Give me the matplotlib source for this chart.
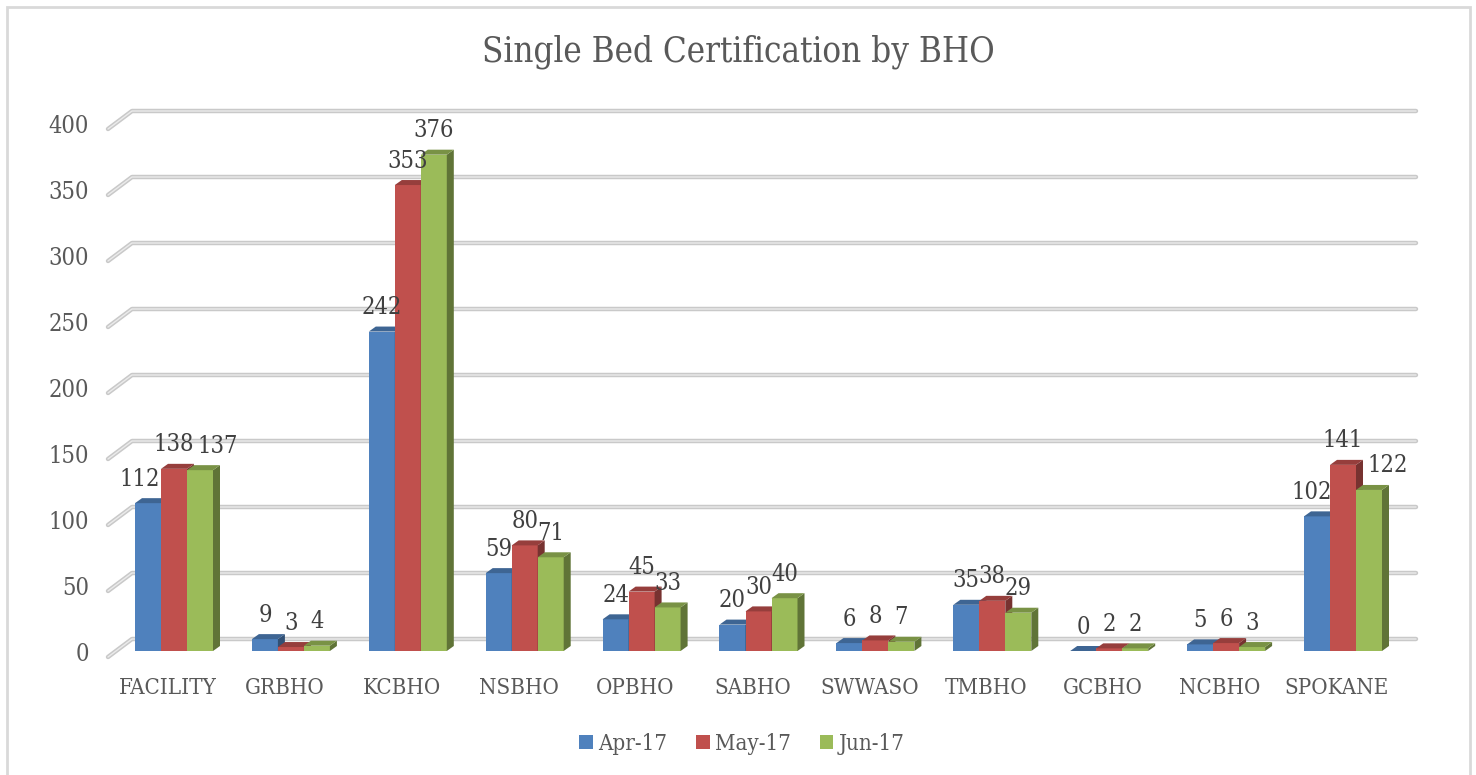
import matplotlib
matplotlib.use("Agg")
import matplotlib.pyplot as plt
from matplotlib.patches import Polygon, Patch, Rectangle
from matplotlib import colors as mcolors


categories = ["FACILITY", "GRBHO", "KCBHO", "NSBHO", "OPBHO", "SABHO",
              "SWWASO", "TMBHO", "GCBHO", "NCBHO", "SPOKANE"]
series_names = ["Apr-17", "May-17", "Jun-17"]
apr_17 = [112, 9, 242, 59, 24, 20, 6, 35, 0, 5, 102]
may_17 = [138, 3, 353, 80, 45, 30, 8, 38, 2, 6, 141]
jun_17 = [137, 4, 376, 71, 33, 40, 7, 29, 2, 3, 122]
y_ticks = [0, 50, 100, 150, 200, 250, 300, 350, 400]

COLORS = ["#4F81BD", "#C0504D", "#9BBB59"]
TEXT_DARK = "#404040"
TEXT_GRAY = "#595959"

# pixel geometry of the "3D" look
W, H, DPI = 1476, 775, 100
CAT_PX = 116.9      # distance between category groups
X0_PX = 174         # centre of first group
BASE_PX = 651       # baseline of bar fronts, from top
VAL_PX = 1.32       # pixels per unit
BAR_PX = 26
DEPTH_X, DEPTH_Y = 7, 5

plt.rcParams["font.family"] = "DejaVu Serif"
plt.rcParams["font.stretch"] = "condensed"


def px_x(n):
    return n / CAT_PX


def px_y(n):
    return n / VAL_PX


def draw_bar(ax, xc, v, color):
    bw = px_x(BAR_PX)
    dx, dy = px_x(DEPTH_X), px_y(DEPTH_Y)
    xl, xr = xc - bw / 2, xc + bw / 2
    rgb = mcolors.to_rgb(color)
    top = tuple(c * 0.78 for c in rgb)
    side = tuple(c * 0.62 for c in rgb)
    ax.add_patch(Polygon([(xl, 0), (xr, 0), (xr, v), (xl, v)],
                         closed=True, facecolor=color, edgecolor="none", zorder=3))
    ax.add_patch(Polygon([(xr, 0), (xr + dx, dy), (xr + dx, v + dy), (xr, v)],
                         closed=True, facecolor=side, edgecolor="none", zorder=3))
    ax.add_patch(Polygon([(xl, v), (xr, v), (xr + dx, v + dy), (xl + dx, v + dy)],
                         closed=True, facecolor=top, edgecolor="none", zorder=3))


fig = plt.figure(figsize=(W / DPI, H / DPI), dpi=DPI)
ax = fig.add_axes([0, 0, 1, 1])
ax.set_xlim(-X0_PX / CAT_PX, (W - X0_PX) / CAT_PX)
ax.set_ylim(-(H - BASE_PX) / VAL_PX, BASE_PX / VAL_PX)
ax.axis("off")

# outer chart border
fig.patches.append(Rectangle((7 / W, -0.01), 1463 / W, 1 - 7 / H + 0.01,
                             transform=fig.transFigure, fill=False,
                             edgecolor="#d9d9d9", linewidth=2))

# gridlines: short wall diagonal + long back line
gx_front, gx_back, gx_end = px_x(108 - X0_PX), px_x(132 - X0_PX), px_x(1416 - X0_PX)
g_front, g_back = px_y(-6), px_y(12)
for t in y_ticks:
    xs = [gx_front, gx_back, gx_end]
    ys = [t + g_front, t + g_back, t + g_back]
    ax.plot(xs, ys, color="#c9c9c9", lw=3.2, solid_capstyle="round",
            solid_joinstyle="round", zorder=1)
    ax.plot(xs, ys, color="#ebebeb", lw=1.0, solid_capstyle="round",
            solid_joinstyle="round", zorder=1.5)
    ax.text(px_x(89 - X0_PX), t - 3, str(t), ha="right", va="center",
            fontsize=17, color=TEXT_GRAY)

# bars and value labels
label_nudge = {(0, 0): -8, (0, 2): 18, (10, 0): -5, (10, 2): 19}
series = [apr_17, may_17, jun_17]
for i, cat in enumerate(categories):
    for s, vals in enumerate(series):
        xc = i + (s - 1) * px_x(BAR_PX)
        draw_bar(ax, xc, vals[i], COLORS[s])
        ax.text(xc + px_x(label_nudge.get((i, s), 0)), vals[i] + px_y(24),
                str(vals[i]), ha="center", va="center", fontsize=17,
                color=TEXT_DARK, zorder=5)
    ax.text(i - px_x(6), px_y(-37), cat, ha="center", va="center",
            fontsize=16, color=TEXT_GRAY)

fig.text(0.5, 1 - 52 / H, "Single Bed Certification by BHO", ha="center",
         va="center", fontsize=25, color=TEXT_GRAY)

handles = [Patch(facecolor=c, edgecolor="none", label=n)
           for c, n in zip(COLORS, series_names)]
leg = fig.legend(handles=handles, loc="center", bbox_to_anchor=(742 / W, 1 - 744 / H),
                 ncol=3, frameon=False, fontsize=16, handlelength=0.6,
                 handleheight=0.6, handletextpad=0.25, columnspacing=1.3)
for txt in leg.get_texts():
    txt.set_color(TEXT_GRAY)

fig.savefig("out.png", dpi=DPI)
